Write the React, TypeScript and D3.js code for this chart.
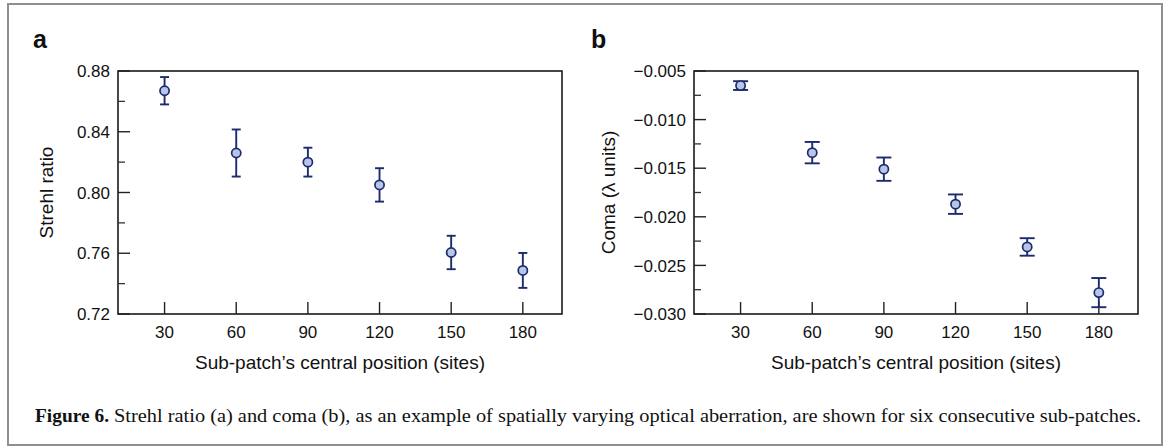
import React from "react";
import * as d3 from "d3";

const positions = [30, 60, 90, 120, 150, 180];
const strehl = [0.867, 0.826, 0.82, 0.805, 0.7605, 0.7487];
const strehlErr = [0.009, 0.0155, 0.0095, 0.011, 0.011, 0.0115];
const coma = [-0.0065, -0.0134, -0.0151, -0.0187, -0.0231, -0.0278];
const comaErr = [0.00045, 0.0011, 0.0012, 0.001, 0.0009, 0.0015];
const strehlTicks = [0.72, 0.76, 0.8, 0.84, 0.88];
const strehlMinor = [0.74, 0.78, 0.82, 0.86];
const comaTicks = [-0.03, -0.025, -0.02, -0.015, -0.01, -0.005];
const comaMinor = [-0.0275, -0.0225, -0.0175, -0.0125, -0.0075];
const captionBold = "Figure 6.";
const captionRest =
  "Strehl ratio (a) and coma (b), as an example of spatially varying optical aberration, are shown for six consecutive sub-patches.";

const NAVY = "#1c2a6e";
const FILL = "#b7c6e6";
const SANS = "'Liberation Sans', Arial, sans-serif";
const SERIF = "'Liberation Serif', 'Times New Roman', serif";

type PanelProps = {
  left: number;
  right: number;
  top: number;
  bottom: number;
  letter: string;
  letterX: number;
  yTitle: string;
  yTitleX: number;
  values: number[];
  errs: number[];
  domain: [number, number];
  ticks: number[];
  minor: number[];
  fmt: (v: number) => string;
  capW: number;
};

function Panel(p: PanelProps) {
  const x = d3.scaleLinear().domain([10.5, 196.4]).range([p.left, p.right]);
  const y = d3.scaleLinear().domain(p.domain).range([p.bottom, p.top]);
  const cy = (p.top + p.bottom) / 2;
  return (
    <g>
      <text x={p.letterX} y={48} fontFamily={SANS} fontWeight="bold" fontSize={25} fill="#111">
        {p.letter}
      </text>
      <rect
        x={p.left}
        y={p.top}
        width={p.right - p.left}
        height={p.bottom - p.top}
        fill="none"
        stroke="#1a1a1a"
        strokeWidth={1.6}
      />
      {p.ticks.map((t) => (
        <g key={"yt" + t}>
          <line x1={p.left} x2={p.left + 12} y1={y(t)} y2={y(t)} stroke="#222" strokeWidth={1.4} />
          <text
            x={p.left - 8}
            y={y(t)}
            dy="0.36em"
            textAnchor="end"
            fontFamily={SANS}
            fontSize={17}
            fill="#111"
          >
            {p.fmt(t)}
          </text>
        </g>
      ))}
      {p.minor.map((t) => (
        <line key={"ym" + t} x1={p.left} x2={p.left + 7} y1={y(t)} y2={y(t)} stroke="#333" strokeWidth={1.3} />
      ))}
      {positions.map((v) => (
        <g key={"xt" + v}>
          <line x1={x(v)} x2={x(v)} y1={p.bottom} y2={p.bottom - 12} stroke="#222" strokeWidth={1.4} />
          <text x={x(v)} y={338} textAnchor="middle" fontFamily={SANS} fontSize={17} fill="#111">
            {v}
          </text>
        </g>
      ))}
      <text
        x={(p.left + p.right) / 2}
        y={369}
        textAnchor="middle"
        fontFamily={SANS}
        fontSize={19}
        fill="#111"
      >
        Sub-patch’s central position (sites)
      </text>
      <text
        transform={`translate(${p.yTitleX},${cy}) rotate(-90)`}
        textAnchor="middle"
        dy="0.35em"
        fontFamily={SANS}
        fontSize={19}
        fill="#111"
      >
        {p.yTitle}
      </text>
      {positions.map((v, i) => {
        const px = x(v);
        const yt = y(p.values[i] + p.errs[i]);
        const yb = y(p.values[i] - p.errs[i]);
        return (
          <g key={"pt" + v} stroke={NAVY} strokeWidth={1.9}>
            <line x1={px} x2={px} y1={yt} y2={yb} />
            <line x1={px - p.capW / 2} x2={px + p.capW / 2} y1={yt} y2={yt} />
            <line x1={px - p.capW / 2} x2={px + p.capW / 2} y1={yb} y2={yb} />
            <circle cx={px} cy={y(p.values[i])} r={4.6} fill={FILL} strokeWidth={1.7} />
          </g>
        );
      })}
    </g>
  );
}

export default function App() {
  const fmtA = d3.format(".2f");
  const fmtB = (v: number) => d3.format(".3f")(v).replace("-", "−");
  return (
    <svg
      width={1168}
      height={448}
      style={{ position: "absolute", left: 0, top: 0, background: "#fff" }}
    >
      <rect x={8} y={4} width={1154} height={441} fill="#fff" stroke="#8f8f8f" strokeWidth={2} />
      <Panel
        left={118}
        right={562}
        top={71}
        bottom={314}
        letter="a"
        letterX={33}
        yTitle="Strehl ratio"
        yTitleX={46}
        values={strehl}
        errs={strehlErr}
        domain={[0.72, 0.88]}
        ticks={strehlTicks}
        minor={strehlMinor}
        fmt={fmtA}
        capW={9}
      />
      <Panel
        left={694}
        right={1138}
        top={71}
        bottom={314}
        letter="b"
        letterX={591}
        yTitle="Coma (λ units)"
        yTitleX={608}
        values={coma}
        errs={comaErr}
        domain={[-0.03, -0.005]}
        ticks={comaTicks}
        minor={comaMinor}
        fmt={fmtB}
        capW={15}
      />
      <text
        x={35}
        y={422}
        fontFamily={SERIF}
        fontWeight="bold"
        fontSize={19}
        fill="#111"
        textLength={74}
        lengthAdjust="spacingAndGlyphs"
      >
        {captionBold}
      </text>
      <text
        x={114}
        y={422}
        fontFamily={SERIF}
        fontSize={19}
        fill="#111"
        textLength={1027}
        lengthAdjust="spacingAndGlyphs"
      >
        {captionRest}
      </text>
    </svg>
  );
}
